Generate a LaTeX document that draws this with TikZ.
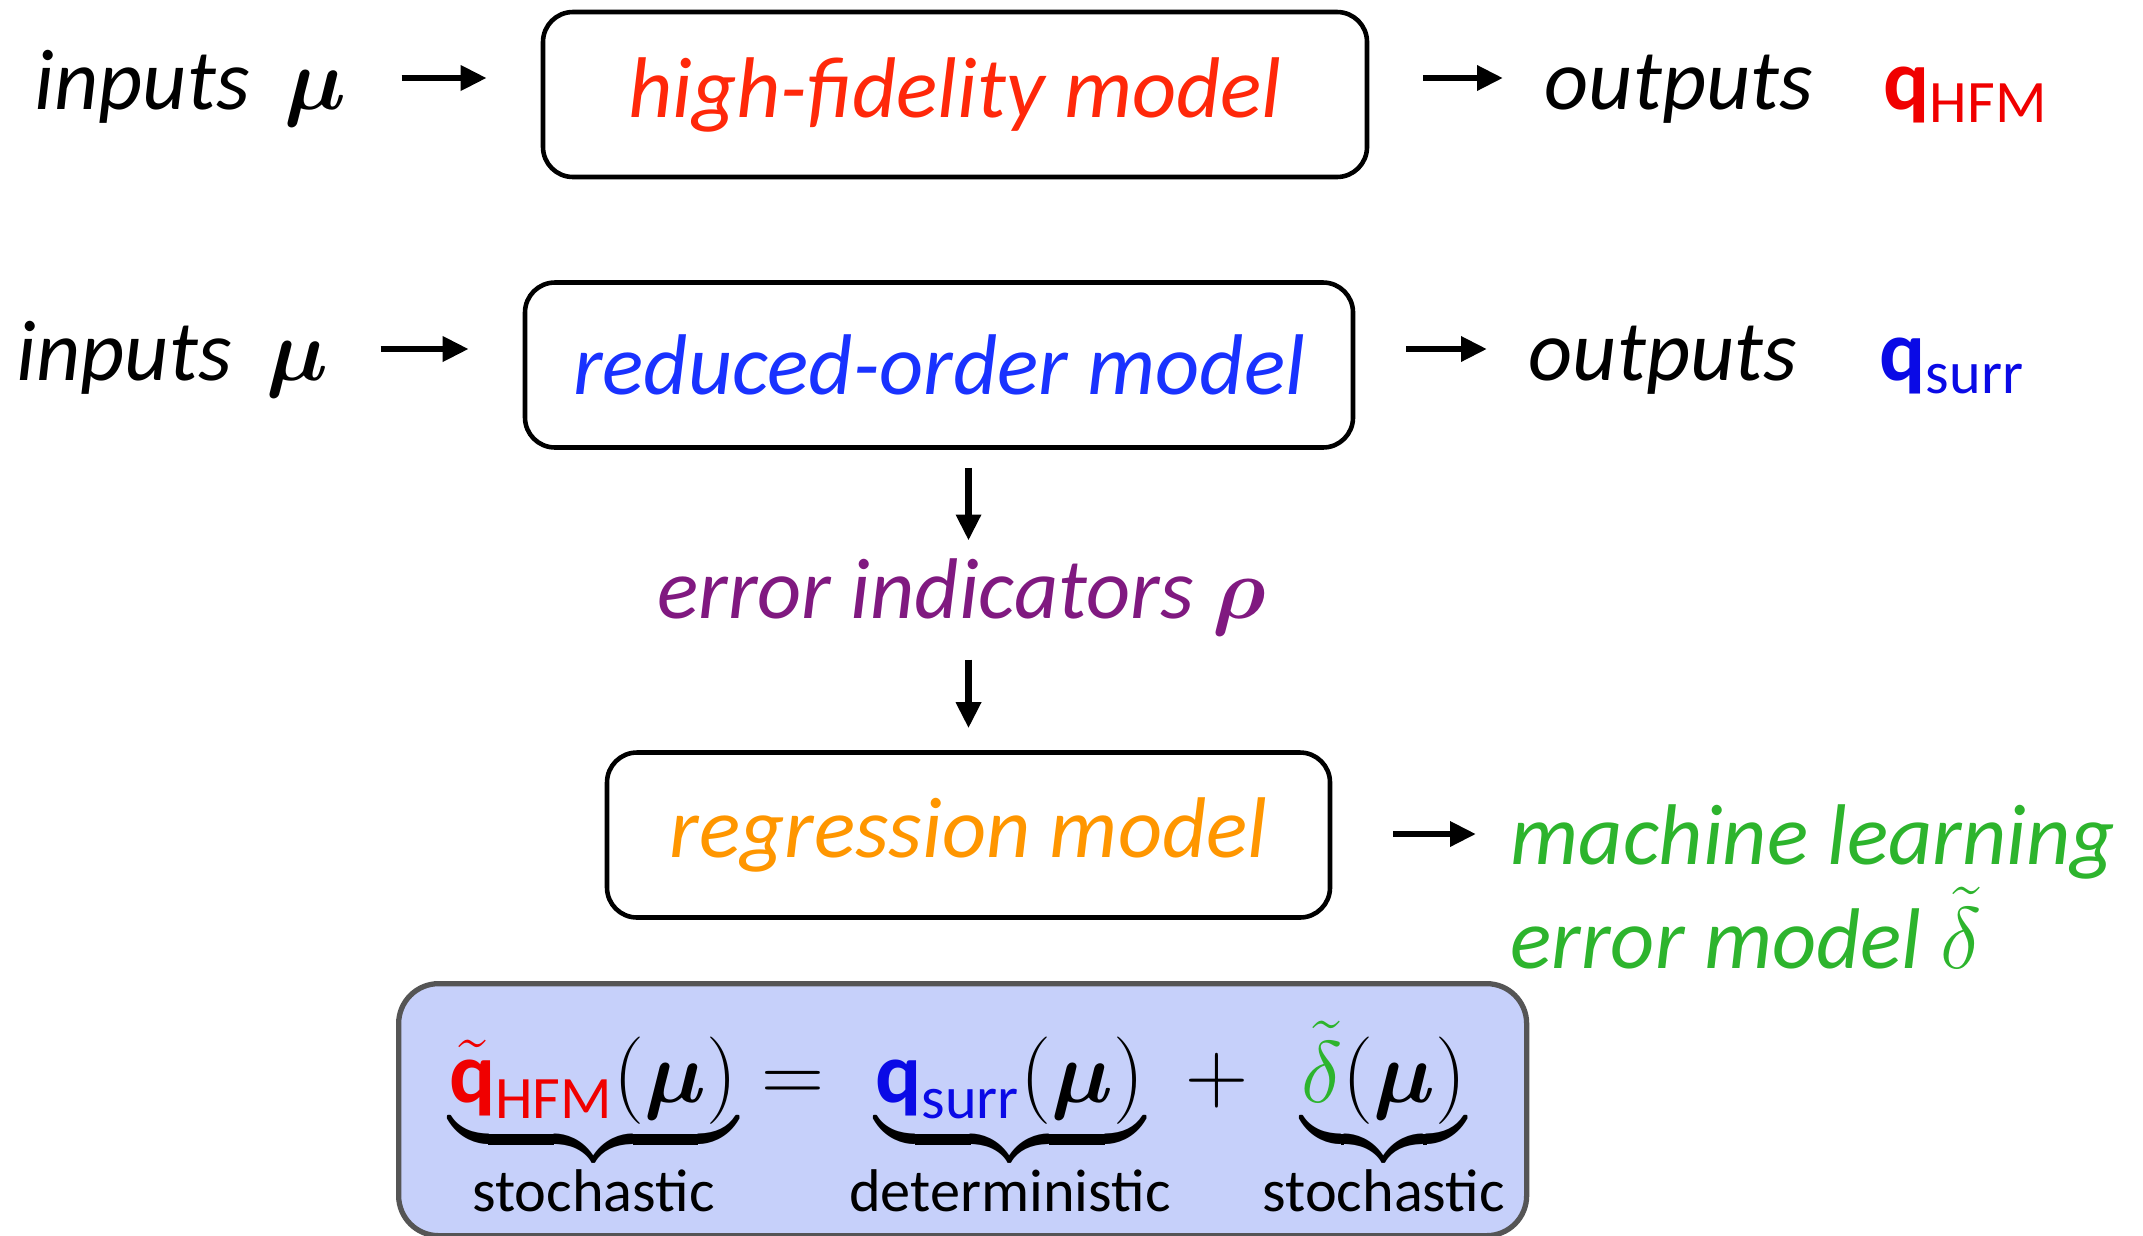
\documentclass[tikz,border=0pt]{standalone}
\usepackage{exscale}
\usepackage{amsmath}
\usepackage[no-math]{fontspec}
\setmainfont{Carlito}
\usetikzlibrary{arrows.meta}

\definecolor{hfmred}{RGB}{255,40,10}
\definecolor{qred}{RGB}{240,0,0}
\definecolor{romblue}{RGB}{25,50,255}
\definecolor{qblue}{RGB}{10,10,230}
\definecolor{errpurple}{RGB}{128,25,128}
\definecolor{regorange}{RGB}{255,150,0}
\definecolor{mlgreen}{RGB}{45,180,45}
\definecolor{eqfill}{RGB}{198,208,250}
\definecolor{eqdraw}{RGB}{85,85,85}

\tikzset{
  lbl/.style={inner sep=0pt, anchor=base west},
  modelbox/.style={draw, line width=1.3pt, rounded corners=0.3cm, minimum width=#1, minimum height=1.65cm, inner sep=0pt},
  arr/.style={line width=1.8pt, -{Triangle[length=0.26cm,width=0.24cm]}},
  eqbox/.style={draw=eqdraw, fill=eqfill, line width=1.5pt, rounded corners=0.4cm},
}

\begin{document}
\begin{tikzpicture}[font=\fontsize{24.5}{29.5}\selectfont]
    \useasboundingbox (0,0) rectangle (21.43,-12.35);
    \clip (0,0) rectangle (21.43,-12.35);
    % high-fidelity row
    \node[lbl] (in1) at (0.34,-1.09) {\textit{inputs}\hspace{0.4em}$\boldsymbol{\mu}$};
    \node[modelbox=8.24cm] (hfm) at (9.55,-0.945) {\textcolor{hfmred}{\textit{high-fidelity model}}};
    \node[lbl] (out1) at (15.44,-1.09) {\textit{outputs}};
    \node[lbl] (q1) at (18.83,-1.09) {\textcolor{qred}{\textbf{q}\textsubscript{HFM}}};
    \draw[arr, shorten <=0.55cm, shorten >=0.54cm] ([yshift=3.1mm]in1.base east) -- ([yshift=3.1mm]in1.base east -| hfm.west);
    \draw[arr, shorten <=0.54cm, shorten >=0.41cm] ([yshift=3.1mm]out1.base west -| hfm.east) -- ([yshift=3.1mm]out1.base west);
    % reduced-order row
    \node[lbl] (in2) at (0.16,-3.80) {\textit{inputs}\hspace{0.4em}$\boldsymbol{\mu}$};
    \node[modelbox=8.28cm] (rom) at (9.39,-3.65) {\textcolor{romblue}{\textit{reduced-order model}}};
    \node[lbl] (out2) at (15.28,-3.80) {\textit{outputs}};
    \node[lbl] (q2) at (18.79,-3.80) {\textcolor{qblue}{\textbf{q}\textsubscript{surr}}};
    \draw[arr, shorten <=0.52cm, shorten >=0.54cm] ([yshift=3.1mm]in2.base east) -- ([yshift=3.1mm]in2.base east -| rom.west);
    \draw[arr, shorten <=0.51cm, shorten >=0.41cm] ([yshift=3.1mm]out2.base west -| rom.east) -- ([yshift=3.1mm]out2.base west);
    % error indicators and regression
    \node[anchor=base, inner sep=0pt] (err) at (9.62,-6.18) {\textcolor{errpurple}{\textit{error indicators} $\boldsymbol{\rho}$}};
    \node[modelbox=7.23cm] (reg) at (9.685,-8.35) {\textcolor{regorange}{\textit{regression model}}};
    \node[lbl] (ml1) at (15.10,-8.64) {\textcolor{mlgreen}{\textit{machine learning}}};
    \node[lbl] (ml2) at (15.10,-9.68) {\textcolor{mlgreen}{\textit{error model} $\tilde{\delta}$}};
    \draw[arr, shorten <=0.18cm, shorten >=0.17cm] (rom.south -| reg.north) -- (err.north -| reg.north);
    \draw[arr, shorten <=0.24cm, shorten >=0.22cm] (err.south -| reg.north) -- (reg.north);
    \draw[arr, shorten <=0.61cm, shorten >=0.34cm] ([yshift=3mm]ml1.base west -| reg.east) -- ([yshift=3mm]ml1.base west);
    % error model equation
    \node[eqbox, anchor=north west, minimum width=11.28cm, minimum height=2.52cm] (eqbg) at (3.96,-9.81) {};
    \node[anchor=base, inner sep=0pt] (eq) at (9.77,-11.02) {$\underbrace{{\color{qred}\tilde{\textbf{q}}_{\text{HFM}}}(\boldsymbol{\mu})}_{\text{stochastic}} = \underbrace{{\color{qblue}\textbf{q}_{\text{surr}}}(\boldsymbol{\mu})}_{\text{deterministic}} + \underbrace{{\color{mlgreen}\tilde{\delta}}(\boldsymbol{\mu})}_{\text{stochastic}}$};
\end{tikzpicture}
\end{document}
